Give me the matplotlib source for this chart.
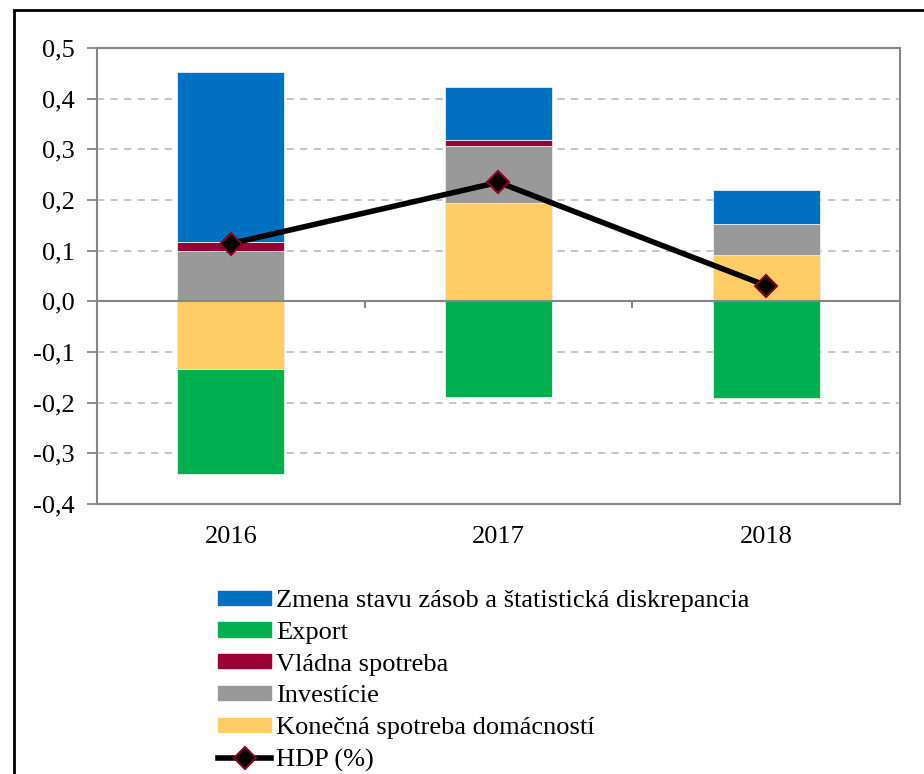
import matplotlib.pyplot as plt
from matplotlib.patches import Rectangle
from matplotlib.lines import Line2D
import numpy as np

plt.rcParams['font.family'] = ['Liberation Serif', 'DejaVu Serif']

years = ['2016', '2017', '2018']

# contributions to GDP growth (p.p.)
households = [-0.134, 0.195, 0.091]
investment = [0.100, 0.112, 0.062]
government = [0.017, 0.0115, 0.0]
export = [-0.206, -0.188, -0.191]
inventories = [0.336, 0.104, 0.067]
gdp = [0.114, 0.235, 0.031]

labels = ['Zmena stavu zásob a štatistická diskrepancia', 'Export',
          'Vládna spotreba', 'Investície', 'Konečná spotreba domácností']
colors = {'inv': '#0070C0', 'exp': '#00B050', 'gov': '#990033',
          'invest': '#999999', 'hh': '#FFCC66'}

fs = 19

fig = plt.figure(figsize=(9.24, 7.74), dpi=100)
ax = fig.add_axes([97 / 924, 1 - 504 / 774, 803 / 924, 456 / 774])

x = np.arange(len(years))
w = 0.4

# positive parts stack upward from 0, negative parts downward
pos_bottom = np.zeros(len(years))
neg_bottom = np.zeros(len(years))
series = [('hh', households), ('invest', investment), ('gov', government),
          ('exp', export), ('inv', inventories)]
for key, vals in series:
    vals = np.array(vals)
    bottom = np.where(vals >= 0, pos_bottom, neg_bottom)
    ax.bar(x, vals, w, bottom=bottom, color=colors[key],
           edgecolor='#e8eef5', linewidth=0.6, zorder=3)
    pos_bottom += np.where(vals >= 0, vals, 0)
    neg_bottom += np.where(vals < 0, vals, 0)

ax.plot(x, gdp, color='black', lw=4, marker='D', markersize=11,
        markerfacecolor='black', markeredgecolor='#8B0020',
        markeredgewidth=1.5, zorder=5)

ax.set_xlim(-0.5, 2.5)
ax.set_ylim(-0.4, 0.5)
yt = np.round(np.arange(-0.4, 0.51, 0.1), 1)
ax.set_yticks(yt)
ax.set_yticklabels([f'{v + 0.0:.1f}'.replace('.', ',') for v in yt],
                   fontsize=fs)
for v in yt:
    if -0.4 < v < 0.5 and abs(v) > 1e-9:
        ax.axhline(v, color='#c0c0c0', lw=1.3, ls=(0, (4, 3.5)), zorder=1)
ax.axhline(0, color='#868686', lw=1.5, zorder=4)
ax.vlines([0.5, 1.5], -0.014, 0, color='#868686', lw=1.5, zorder=4)

ax.set_xticks(x)
ax.set_xticklabels(years, fontsize=fs)
ax.tick_params(axis='x', length=0, pad=16)
ax.tick_params(axis='y', length=7, width=1.3, color='#868686', pad=9)
for s in ax.spines.values():
    s.set_color('#868686')
    s.set_linewidth(1.5)

handles = [Rectangle((0, 0), 1, 1, color=colors[k])
           for k in ['inv', 'exp', 'gov', 'invest', 'hh']]
handles.append(Line2D([], [], color='black', lw=4, marker='D', markersize=11,
                      markerfacecolor='black', markeredgecolor='#8B0020',
                      markeredgewidth=1.5))
fig.legend(handles, labels + ['HDP (%)'], loc='upper left',
           bbox_to_anchor=(205 / 924, 1 - 577 / 774), frameon=False,
           fontsize=fs, handlelength=2.0, handleheight=0.45,
           handletextpad=0.2, labelspacing=0.37, borderpad=0)

# outer frame
fig.patches.append(Rectangle((14 / 924, -0.05), 1.0, 1 - 10 / 774 + 0.05,
                             transform=fig.transFigure, fill=False,
                             edgecolor='black', lw=2))

fig.savefig('out.png', dpi=100)
